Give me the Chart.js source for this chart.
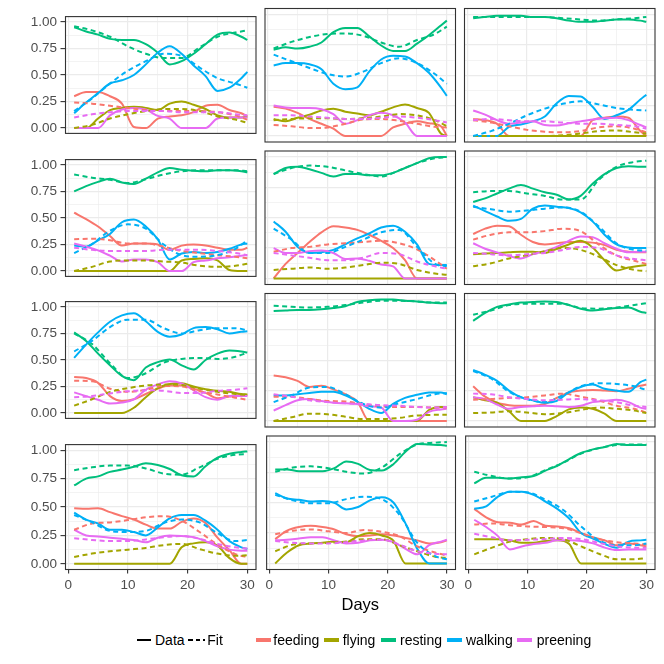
<!DOCTYPE html>
<html><head><meta charset="utf-8">
<script src="https://cdn.jsdelivr.net/npm/chart.js@4.4.1/dist/chart.umd.min.js"></script>
<style>
html,body{margin:0;padding:0;background:#fff;}
body{width:664px;height:664px;position:relative;overflow:hidden;font-family:"Liberation Sans",Arial,Helvetica,sans-serif;}
.wrap{position:absolute;}
.wrap canvas{display:block;}
.txt{position:absolute;white-space:nowrap;line-height:1;}
.key{position:absolute;}
</style></head><body>
<script>
// ---------------- DATA ----------------
const dataDays = [1,3,5,7,9,11,13,15,17,19,21,23,25,27,29,30];
const fitDays  = [1,4,7,10,13,16,19,22,25,28,30];
const behaviours = ['feeding','flying','resting','walking','preening'];
const yTickValues = [0,0.25,0.5,0.75,1];
const yTickLabels = ['0.00','0.25','0.50','0.75','1.00'];
const yMinorValues = [0.125,0.375,0.625,0.875];
const xTickValues = [0,10,20,30];
const xTickLabels = ['0','10','20','30'];
const xMinorValues = [5,15,25];
const xTitle = 'Days';
const legendTypes = ['Data','Fit'];

// one row per panel (row-major, 4 rows x 3 columns), values at dataDays
const feedingData = [
 [.30,.34,.34,.30,.23,.01,0,.09,.11,.12,.15,.21,.22,.17,.14,.11],
 [.24,.225,.19,.14,.10,.06,0,0,0,0,.07,.10,.12,.105,.08,0],
 [.14,.13,.10,0,0,0,0,0,0,0,.13,.15,.16,.15,.04,0],
 [.55,.49,.42,.33,.24,.26,.26,.25,.20,.24,.25,.24,.22,.20,.20,.22],
 [0,.12,.21,.30,.38,.43,.42,.40,.36,.31,.25,.15,0,0,0,0],
 [.365,.41,.435,.43,.36,.30,.28,.29,.30,.30,.295,.275,.235,.22,.215,.215],
 [.34,.33,.285,.16,.115,.13,.18,.23,.26,.26,.23,.19,.14,.155,.17,.17],
 [.375,.36,.33,.28,.29,.26,.22,.16,0,0,0,0,0,0,0,0],
 [.285,.20,.15,.13,.125,.125,.14,.19,.235,.25,.255,.25,.245,.265,.29,.30],
 [.49,.485,.49,.455,.42,.39,.345,.31,.31,.37,.40,.36,.23,.12,0,0],
 [.20,.27,.30,.31,.30,.28,.24,.225,.23,.24,.23,.21,.19,.165,.175,.19],
 [.45,.38,.34,.335,.32,.35,.31,.305,.29,.25,.215,.19,.15,.165,.15,.14]
];
const flyingData = [
 [0,0,.09,.17,.19,.20,.19,.17,.23,.25,.22,.18,.12,.10,.10,.11],
 [.14,.12,.15,.175,.21,.225,.20,.185,.17,.20,.235,.26,.23,.19,.02,0],
 [0,0,0,0,0,0,0,0,0,0,0,0,0,0,0,0],
 [0,0,0,0,0,0,0,0,0,.10,.115,.12,.10,.01,0,0],
 [0,0,0,0,0,0,0,0,0,0,0,0,0,0,0,0],
 [.20,.205,.21,.215,.22,.22,.21,.245,.28,.31,.255,.15,.065,.09,.105,.11],
 [0,0,0,0,0,.05,.15,.235,.275,.28,.25,.225,.21,.20,.18,.175],
 [0,0,0,0,0,0,0,0,0,0,0,0,0,.09,.115,.115],
 [.195,.17,.15,.08,0,0,0,.04,.095,.11,.10,.06,0,0,0,0],
 [0,0,0,0,0,0,0,0,0,.145,.18,.19,.16,.05,0,0],
 [0,.09,.15,.165,.17,.18,.175,.225,.25,.23,.185,0,0,0,0,0],
 [.20,.20,.20,.19,.17,.17,.185,.19,.16,0,0,0,0,0,0,0]
];
const restingData = [
 [.95,.91,.88,.84,.83,.83,.79,.71,.60,.63,.70,.79,.88,.90,.86,.83],
 [.71,.73,.72,.735,.77,.855,.89,.89,.82,.745,.70,.70,.76,.83,.91,.95],
 [.97,.98,.99,.99,.99,.98,.98,.97,.95,.94,.94,.95,.96,.96,.95,.94],
 [.75,.80,.84,.87,.835,.82,.87,.93,.97,.955,.945,.94,.95,.95,.94,.93],
 [.86,.91,.92,.90,.87,.84,.86,.86,.85,.85,.87,.91,.95,.99,1.0,1.0],
 [.63,.66,.70,.74,.77,.74,.71,.69,.65,.68,.78,.86,.91,.925,.92,.92],
 [.76,.68,.56,.45,.35,.31,.43,.48,.505,.45,.41,.50,.56,.59,.58,.57],
 [.905,.91,.915,.915,.92,.93,.945,.98,.995,1.0,1.0,.99,.985,.975,.97,.97],
 [.825,.89,.94,.96,.975,.98,.985,.98,.955,.925,.91,.92,.93,.935,.90,.89],
 [.69,.75,.77,.81,.83,.855,.885,.87,.835,.78,.77,.86,.935,.97,.985,.99],
 [.775,.775,.76,.76,.76,.785,.84,.82,.77,.765,.82,.92,.985,.98,.975,.97],
 [.66,.705,.705,.70,.71,.72,.765,.805,.86,.91,.94,.96,.985,.975,.975,.975]
];
const walkingData = [
 [.14,.24,.33,.42,.45,.50,.60,.71,.77,.70,.59,.49,.35,.38,.47,.53],
 [.58,.60,.60,.59,.55,.43,.385,.40,.53,.63,.66,.655,.60,.52,.40,.33],
 [0,0,0,.075,.095,.12,.16,.27,.33,.325,.24,.14,.17,.215,.30,.34],
 [.24,.23,.29,.35,.46,.485,.42,.30,.11,.165,.18,.17,.18,.21,.25,.26],
 [.47,.385,.26,.21,.215,.235,.28,.33,.37,.42,.435,.385,.28,.12,.11,.11],
 [.60,.555,.51,.475,.49,.575,.60,.59,.58,.545,.47,.36,.28,.255,.25,.25],
 [.52,.645,.76,.86,.92,.94,.865,.765,.72,.74,.80,.81,.79,.75,.765,.77],
 [.21,.21,.22,.23,.24,.24,.21,.16,.10,.065,.14,.19,.215,.235,.235,.22],
 [.42,.38,.33,.25,.195,.17,.15,.165,.235,.28,.30,.265,.25,.24,.32,.34],
 [.45,.39,.355,.30,.30,.28,.25,.32,.40,.43,.43,.38,.30,.20,.145,.13],
 [.58,.535,.525,.51,.515,.50,.445,.465,.52,.545,.50,.33,.12,0,0,0],
 [.45,.47,.55,.59,.59,.565,.51,.45,.37,.25,.205,.16,.13,.18,.19,.195]
];
const preeningData = [
 [0,0,0,.12,.175,.19,.175,.115,.09,0,0,0,.09,.10,.10,.10],
 [.25,.235,.23,.23,.22,.18,.10,.13,.17,.19,.17,.11,0,0,0,0],
 [.21,.175,.13,.10,.11,.12,.09,.085,.105,.12,.135,.145,.15,.13,.09,.07],
 [.26,.23,.195,.145,.09,.11,.11,.085,0,0,.085,.10,.12,.13,.145,.15],
 [.25,.21,.21,.225,.23,.21,.16,.165,.145,.115,.10,0,0,0,0,0],
 [.29,.245,.215,.185,.165,.20,.225,.26,.31,.345,.34,.29,.245,.215,.22,.22],
 [.195,.16,.125,.09,.10,.13,.22,.27,.30,.28,.215,.15,.125,.16,.16,.16],
 [.085,.13,.17,.18,.165,.15,.145,.14,.12,.11,0,0,.01,.075,.095,.10],
 [.195,.18,.135,.10,.115,.12,.125,.12,.115,.125,.155,.165,.175,.155,.11,.10],
 [.30,.25,.24,.23,.22,.21,.19,.23,.25,.245,.235,.20,.155,.125,.115,.115],
 [.19,.195,.205,.215,.215,.19,.165,.17,.19,.195,.175,.12,.075,.15,.18,.195],
 [.36,.30,.225,.115,.14,.16,.17,.19,.19,.185,.165,.13,.11,.115,.115,.115]
];

// fitted values at fitDays
const feedingFit = [
 [.24,.23,.21,.19,.17,.16,.16,.16,.15,.12,.08],
 [.09,.08,.065,.07,.10,.135,.14,.125,.10,.075,.07],
 [.13,.11,.08,.05,.035,.03,.04,.07,.08,.06,.03],
 [.30,.305,.29,.26,.26,.23,.19,.17,.15,.135,.12],
 [.22,.25,.26,.28,.29,.30,.31,.29,.24,.15,.08],
 [.32,.36,.38,.38,.39,.41,.39,.28,.19,.145,.12],
 [.305,.30,.23,.20,.22,.255,.25,.205,.175,.145,.125],
 [.20,.20,.18,.165,.16,.14,.12,.115,.115,.11,.11],
 [.175,.18,.19,.195,.21,.225,.20,.17,.125,.10,.07],
 [.30,.355,.365,.385,.41,.42,.38,.28,.17,.085,.06],
 [.24,.27,.28,.265,.25,.275,.26,.225,.14,.09,.065],
 [.32,.33,.315,.305,.30,.29,.25,.20,.175,.165,.155]
];
const flyingFit = [
 [0,.03,.09,.13,.16,.18,.18,.16,.11,.08,.05],
 [.13,.14,.145,.145,.14,.145,.16,.18,.17,.13,.08],
 [0,0,0,0,0,.005,.02,.04,.045,.03,.02],
 [0,.04,.09,.10,.10,.09,.08,.05,.04,.05,.07],
 [.07,.08,.09,.08,.09,.11,.13,.12,.07,.04,.03],
 [.10,.125,.165,.19,.225,.25,.235,.18,.11,.07,.06],
 [.07,.13,.20,.235,.26,.27,.265,.23,.20,.18,.17],
 [0,.03,.06,.055,.035,.015,.015,.025,.045,.05,.05],
 [.065,.07,.08,.07,.055,.065,.09,.11,.10,.085,.065],
 [.06,.09,.11,.125,.14,.165,.175,.13,.09,.07,.075],
 [.10,.155,.165,.17,.18,.20,.20,.15,.10,.055,.045],
 [.075,.13,.18,.20,.21,.20,.14,.08,.035,.035,.045]
];
const restingFit = [
 [.96,.92,.86,.77,.70,.66,.66,.76,.86,.90,.92],
 [.72,.775,.815,.84,.845,.825,.77,.735,.79,.84,.90],
 [.98,.98,.98,.98,.98,.97,.96,.95,.96,.97,.98],
 [.91,.88,.86,.83,.865,.91,.94,.95,.95,.95,.94],
 [.86,.91,.93,.92,.89,.86,.84,.89,.95,.99,1.0],
 [.71,.72,.72,.70,.68,.65,.65,.81,.92,.96,.97],
 [.75,.65,.47,.33,.375,.475,.51,.52,.51,.53,.57],
 [.95,.94,.935,.94,.955,.975,.99,.99,.985,.975,.975],
 [.875,.91,.955,.965,.965,.965,.93,.925,.935,.955,.97],
 [.825,.85,.865,.865,.84,.795,.785,.85,.925,.96,.965],
 [.755,.79,.80,.785,.755,.74,.79,.90,.98,.995,1.0],
 [.755,.72,.70,.71,.77,.83,.905,.95,.975,.98,.98]
];
const walkingFit = [
 [.16,.28,.42,.54,.63,.70,.68,.57,.47,.42,.38],
 [.67,.615,.56,.51,.49,.53,.60,.64,.60,.51,.43],
 [0,.04,.10,.17,.225,.265,.285,.26,.23,.215,.21],
 [.17,.255,.38,.44,.40,.25,.15,.135,.15,.21,.29],
 [.41,.32,.21,.21,.26,.32,.38,.40,.26,.12,.10],
 [.59,.57,.55,.56,.575,.585,.55,.43,.29,.235,.23],
 [.58,.68,.81,.88,.88,.80,.75,.78,.80,.80,.78],
 [.155,.21,.275,.28,.22,.14,.11,.145,.18,.22,.23],
 [.41,.35,.24,.18,.155,.21,.285,.31,.305,.285,.255],
 [.43,.365,.29,.28,.29,.36,.39,.365,.27,.20,.21],
 [.565,.52,.495,.495,.53,.55,.53,.40,.17,.06,.035],
 [.51,.55,.59,.585,.525,.44,.305,.19,.15,.15,.165]
];
const preeningFit = [
 [.10,.13,.15,.16,.16,.16,.15,.15,.15,.13,.12],
 [.17,.17,.16,.15,.14,.14,.15,.16,.15,.13,.11],
 [.13,.14,.13,.12,.12,.11,.10,.10,.09,.08,.06],
 [.22,.20,.19,.19,.19,.20,.20,.20,.19,.17,.15],
 [.21,.19,.17,.15,.15,.17,.21,.20,.14,.10,.08],
 [.21,.20,.19,.20,.21,.235,.26,.25,.19,.16,.15],
 [.15,.16,.185,.205,.215,.21,.19,.19,.21,.22,.235],
 [.22,.20,.17,.155,.145,.14,.13,.125,.115,.11,.115],
 [.225,.22,.195,.18,.17,.175,.18,.17,.155,.125,.115],
 [.225,.21,.20,.20,.215,.235,.245,.22,.175,.145,.135],
 [.185,.17,.165,.165,.175,.19,.195,.155,.10,.08,.075],
 [.245,.215,.19,.195,.20,.21,.20,.17,.14,.13,.13]
];

// ---------------- STYLE / LAYOUT ----------------
const COLOURS = ['#F8766D','#A3A500','#00BF7D','#00B0F6','#E76BF3'];
const DATA_BY = [feedingData, flyingData, restingData, walkingData, preeningData];
const FIT_BY  = [feedingFit, flyingFit, restingFit, walkingFit, preeningFit];
const COL_LEFT = [65.5, 265, 464.5];
const ROW_TOP = [8.5, 151, 293.5, 436];
const PW = 190.5, PH = 133.5;
const FONT = '"Liberation Sans", Arial, Helvetica, sans-serif';
const LINE_W = 2.0;
const DASH = [5, 3.5];

const panelBorder = {
  id: 'panelBorder',
  afterDraw(chart) {
    const {ctx, chartArea: a} = chart;
    ctx.save();
    ctx.strokeStyle = '#333333';
    ctx.lineWidth = 1.1;
    ctx.strokeRect(a.left, a.top, a.right - a.left, a.bottom - a.top);
    ctx.restore();
  }
};

function isIn(list, v) { return list.some(t => Math.abs(t - v) < 1e-9); }

for (let p = 0; p < 12; p++) {
  const r = Math.floor(p / 3), c = p % 3;
  const px = COL_LEFT[c], py = ROW_TOP[r];
  const showY = c === 0, showX = r === 3;
  const cl = showY ? 0 : Math.floor(px - 3);
  const ct = Math.floor(py - 3);
  const cr = Math.ceil(px + PW + 3);
  const cb = showX ? Math.ceil(py + PH + 26) : Math.ceil(py + PH + 3);
  const cw = cr - cl, ch = cb - ct;

  const wrap = document.createElement('div');
  wrap.className = 'wrap';
  wrap.style.left = cl + 'px'; wrap.style.top = ct + 'px';
  wrap.style.width = cw + 'px'; wrap.style.height = ch + 'px';
  const cv = document.createElement('canvas');
  cv.width = cw; cv.height = ch;
  cv.style.width = cw + 'px'; cv.style.height = ch + 'px';
  wrap.appendChild(cv);
  document.body.appendChild(wrap);

  const ordered = [];
  behaviours.forEach((b, i) => {
    ordered.push({
      label: b + ' data',
      data: dataDays.map((d, k) => ({x: d, y: DATA_BY[i][p][k]})),
      borderColor: COLOURS[i], borderWidth: LINE_W,
      pointRadius: 0, fill: false, cubicInterpolationMode: 'monotone'
    });
  });
  behaviours.forEach((b, i) => {
    ordered.push({
      label: b + ' fit',
      data: fitDays.map((d, k) => ({x: d, y: FIT_BY[i][p][k]})),
      borderColor: COLOURS[i], borderWidth: LINE_W, borderDash: DASH,
      pointRadius: 0, fill: false, cubicInterpolationMode: 'monotone'
    });
  });
  ordered.forEach((ds, i) => { ds.order = ordered.length - i; });

  const leftW = px - cl;
  const botH = cb - (py + PH);

  new Chart(cv, {
    type: 'line',
    data: {datasets: ordered},
    plugins: [panelBorder],
    options: {
      responsive: false, animation: false, devicePixelRatio: 1,
      layout: {padding: {left: 0, bottom: 0, top: py - ct, right: cr - (px + PW)}},
      plugins: {legend: {display: false}, tooltip: {enabled: false}},
      elements: {line: {borderCapStyle: 'butt', borderJoinStyle: 'round'}},
      scales: {
        x: {
          type: 'linear', min: -0.45, max: 31.45,
          border: {display: false},
          afterBuildTicks: s => { s.ticks = xTickValues.concat(xMinorValues).sort((a,b)=>a-b).map(v => ({value: v})); },
          afterFit: s => { s.height = botH; },
          grid: {
            color: '#EBEBEB',
            lineWidth: ctx => (ctx.tick && isIn(xMinorValues, ctx.tick.value)) ? 0.6 : 1.2,
            drawTicks: showX, tickLength: 4, tickWidth: 1.1,
            tickColor: ctx => (ctx.tick && isIn(xTickValues, ctx.tick.value)) ? '#333333' : 'rgba(0,0,0,0)'
          },
          ticks: {
            display: showX, autoSkip: false, maxRotation: 0, padding: 3.5,
            color: '#4D4D4D', font: {family: FONT, size: 13.5},
            callback: v => { const i = xTickValues.findIndex(t => Math.abs(t - v) < 1e-9); return i >= 0 ? xTickLabels[i] : ''; }
          }
        },
        y: {
          type: 'linear', min: -0.05, max: 1.05,
          border: {display: false},
          afterBuildTicks: s => { s.ticks = yTickValues.concat(yMinorValues).sort((a,b)=>a-b).map(v => ({value: v})); },
          afterFit: s => { s.width = leftW; },
          grid: {
            color: '#EBEBEB',
            lineWidth: ctx => (ctx.tick && isIn(yMinorValues, ctx.tick.value)) ? 0.6 : 1.2,
            drawTicks: showY, tickLength: 5, tickWidth: 1.1,
            tickColor: ctx => (ctx.tick && isIn(yTickValues, ctx.tick.value)) ? '#333333' : 'rgba(0,0,0,0)'
          },
          ticks: {
            display: showY, autoSkip: false, padding: 3.5,
            color: '#4D4D4D', font: {family: FONT, size: 13.5},
            callback: v => { const i = yTickValues.findIndex(t => Math.abs(t - v) < 1e-9); return i >= 0 ? yTickLabels[i] : ''; }
          }
        }
      }
    }
  });
}

// ---------------- axis title & legend (HTML text) ----------------
function addText(str, x, y, size, colour, anchor) {
  const d = document.createElement('div');
  d.className = 'txt';
  d.textContent = str;
  d.style.fontSize = size + 'px';
  d.style.color = colour;
  d.style.left = x + 'px'; d.style.top = y + 'px';
  d.style.transform = anchor === 'center' ? 'translate(-50%,-50%)' : 'translate(0,-50%)';
  document.body.appendChild(d);
}
function addKey(x, y, w, h, colour) {
  const k = document.createElement('div');
  k.className = 'key';
  k.style.left = x + 'px'; k.style.top = (y - h / 2) + 'px';
  k.style.width = w + 'px'; k.style.height = h + 'px';
  k.style.background = colour;
  document.body.appendChild(k);
}
addText(xTitle, 360.3, 603.5, 16.5, '#000', 'center');

const LEG_Y = 640;
addKey(136.7, LEG_Y, 14, 2, '#000');
addText(legendTypes[0], 155, LEG_Y, 14, '#000', 'left');
addKey(188.3, LEG_Y, 4.5, 2, '#000');
addKey(195.5, LEG_Y, 4.5, 2, '#000');
addKey(202.7, LEG_Y, 2.5, 2, '#000');
addText(legendTypes[1], 207.3, LEG_Y, 14, '#000', 'left');
const keyX = [255.7, 324.3, 381, 446.7, 516.7];
const labX = [273.3, 342.7, 400, 466, 536.7];
behaviours.forEach((b, i) => {
  addKey(keyX[i], LEG_Y, 15, 4, COLOURS[i]);
  addText(b, labX[i], LEG_Y, 14, '#000', 'left');
});
</script>
</body></html>
